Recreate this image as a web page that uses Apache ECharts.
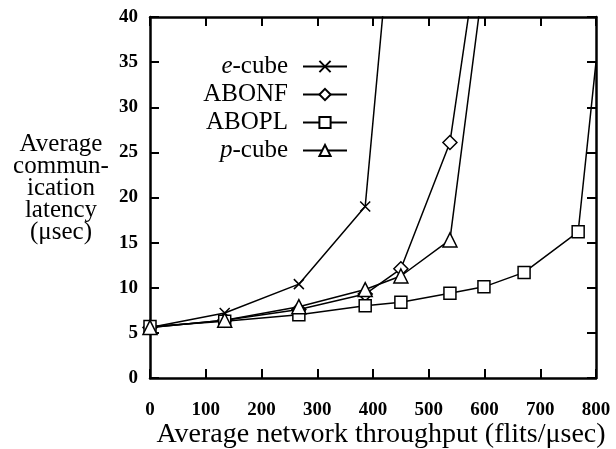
<!DOCTYPE html>
<html>
<head>
  <meta charset="UTF-8">
  <title>Average communication latency</title>
  <script src="https://cdn.jsdelivr.net/npm/echarts@6/dist/echarts.min.js"></script>
</head>
<style type="text/css">
    html,body {padding: 0; margin: 0; background: #fff}
    #chart {width: 616px; height: 449px;}
</style>
<body>
<div id="chart"></div>
<script type="text/javascript">
    // values: [throughput, latency]
    // last point of each curve lies on/beyond the frame and has no marker
    var ecube = [[0, 5.6], [134, 7.2], [267, 10.4], [386, 19.0], [432, 50]];
    var abonf = [[0, 5.6], [134, 6.4], [267, 7.6], [386, 9.3], [450, 12.1], [538, 26.1], [590, 48]];
    var abopl = [[0, 5.7], [134, 6.3], [267, 7.0], [386, 8.0], [450, 8.4], [538, 9.4], [599, 10.1], [671, 11.7], [768, 16.2], [800, 35]];
    var pcube = [[0, 5.6], [134, 6.4], [267, 7.9], [386, 9.8], [450, 11.3], [538, 15.3], [600, 45]];
    var seriesNames = ['e-cube', 'ABONF', 'ABOPL', 'p-cube'];

    var font = 'Liberation Serif';
    var crossPath = 'path://M0,0L10,10M10,0L0,10';

    // plot box: 616x449 minus margins
    var gridL = 150, gridR = 20, gridT = 17, gridB = 71;
    var plotW = 616 - gridL - gridR, plotH = 449 - gridT - gridB;
    var tickLen = 9;

    function mkSeries(name, data, symbol, size) {
        var pts = data.map(function (d, i) {
            if (i == data.length - 1) return {value: d, symbol: 'none'};
            return d;
        });
        return {
            name: name, type: 'line', data: pts,
            symbol: symbol, symbolSize: size,
            lineStyle: {color: '#000', width: 1.5},
            itemStyle: {color: symbol === crossPath ? 'transparent' : '#fff', borderColor: '#000', borderWidth: 1.5}
        };
    }

    // split lines dashed so only a short piece shows at each end = inward ticks on both sides
    function frameAxis(pos, max, step, label, span) {
        return {
            type: 'value', position: pos, min: 0, max: max, interval: step,
            axisLine: {show: true, onZero: false, lineStyle: {color: '#000', width: 2.5}},
            axisTick: {show: true, inside: true, length: tickLen, lineStyle: {color: '#000', width: 2}},
            splitLine: span ? {show: true, lineStyle: {color: '#000', width: 2, type: [tickLen, span - 2 * tickLen, tickLen]}} : {show: false},
            axisLabel: label
        };
    }

    var labelStyle = {show: true, fontFamily: font, fontSize: 19, fontWeight: 'bold', color: '#000'};

    var myChart = echarts.init(document.getElementById('chart'));
    myChart.setOption({
        animation: false,
        grid: {left: gridL, right: gridR, top: gridT, bottom: gridB},
        xAxis: [
            frameAxis('bottom', 800, 100, Object.assign({margin: 23}, labelStyle), plotH),
            frameAxis('top', 800, 100, {show: false})
        ],
        yAxis: [
            frameAxis('left', 40, 5, Object.assign({margin: 12}, labelStyle), plotW),
            frameAxis('right', 40, 5, {show: false})
        ],
        series: [
            mkSeries('e-cube', ecube, crossPath, 10),
            mkSeries('ABONF', abonf, 'diamond', 14),
            mkSeries('ABOPL', abopl, 'rect', 12),
            mkSeries('p-cube', pcube, 'triangle', 14),
            // invisible series on the mirrored top/right axes so they get drawn
            {type: 'line', xAxisIndex: 1, yAxisIndex: 1, data: [[0, 0]], symbol: 'none',
             lineStyle: {opacity: 0}}
        ]
    });

    // legend and axis titles
    myChart.setOption({
        legend: {
            orient: 'vertical',
            right: 263, top: 49,
            align: 'right',
            itemWidth: 44, itemHeight: 14, itemGap: 3,
            data: seriesNames,
            formatter: function (n) {
                if (n === 'e-cube') return '{i|e}{n|-cube}';
                if (n === 'p-cube') return '{i|p}{n|-cube}';
                return '{n|' + n + '}';
            },
            textStyle: {
                fontFamily: font, fontSize: 25, color: '#000',
                rich: {
                    i: {fontFamily: font, fontSize: 25, fontStyle: 'italic', color: '#000'},
                    n: {fontFamily: font, fontSize: 25, color: '#000', padding: [0, 10, 0, 0]}
                }
            }
        },
        graphic: [{
            type: 'text', x: 61, y: 188,
            style: {
                text: 'Average\ncommun-\nication\nlatency\n(\u03bcsec)',
                fontFamily: font, fontSize: 25, lineHeight: 22,
                fill: '#000', align: 'center', verticalAlign: 'middle'
            }
        }, {
            type: 'text', x: 381, y: 435,
            style: {
                text: 'Average network throughput (flits/\u03bcsec)',
                fontFamily: font, fontSize: 28,
                fill: '#000', align: 'center', verticalAlign: 'middle'
            }
        }]
    });
</script>
</body>
</html>
